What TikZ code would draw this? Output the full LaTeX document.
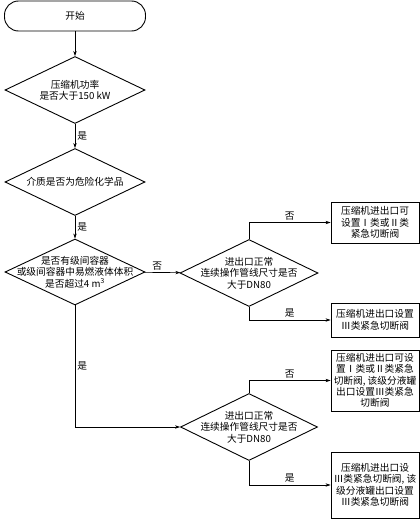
\documentclass[tikz,border=0pt]{standalone}
\usepackage{fontspec}
\setmainfont{Noto Sans CJK SC}
\usetikzlibrary{shapes.geometric,arrows.meta}
\begin{document}
\begin{tikzpicture}[x=1pt,y=-1pt,
  font=\fontsize{9.7}{11.4}\selectfont,
  shp/.style={draw=black,line width=0.9pt},
  startbox/.style={shp,rounded corners=14pt,minimum width=141pt,minimum height=30pt,inner sep=0pt},
  decision/.style={shp,shape=diamond,minimum width=140pt,minimum height=67pt,inner sep=0pt},
  actbox/.style={shp,minimum width=88pt,inner sep=0pt,align=center},
  conn/.style={draw=black,line width=0.6pt,-{Stealth[length=5pt,width=3.4pt]}},
  lbl/.style={font=\fontsize{9.7}{11}\selectfont,inner sep=2pt}]
\useasboundingbox (0,0) rectangle (420,519);

\node[startbox] (s) at (75,16) {开始};
\node[decision,label={[align=center]center:压缩机功率\\是否大于150 kW}] (d1) at (75,90) {};
\node[decision,label={[align=center]center:介质是否为危险化学品}] (d2) at (75,182) {};
\node[decision,minimum height=66pt,label={[align=center]center:是否有级间容器\\或级间容器中易燃液体体积\\是否超过4 m\textsuperscript{3}}] (d3) at (75,272) {};
\node[decision,minimum width=138pt,label={[align=center]center:进出口正常\\连续操作管线尺寸是否\\大于DN80}] (d4) at (249,273) {};
\node[decision,minimum width=137pt,label={[align=center]center:进出口正常\\连续操作管线尺寸是否\\大于DN80}] (d5) at (249,427) {};

\node[actbox,minimum height=41pt] (b1) at (375,222.5) {压缩机进出口可\\设置Ⅰ类或Ⅱ类\\紧急切断阀};
\node[actbox,minimum height=34pt] (b2) at (375,320) {压缩机进出口设置\\Ⅲ类紧急切断阀};
\node[actbox,minimum height=61pt] (b3) at (375,380.5) {压缩机进出口可设\\置Ⅰ类或Ⅱ类紧急\\切断阀, 该级分液罐\\出口设置Ⅲ类紧急\\切断阀};
\node[actbox,minimum height=66pt] (b4) at (375,485) {压缩机进出口设\\Ⅲ类紧急切断阀, 该\\级分液罐出口设置\\Ⅲ类紧急切断阀};

\draw[conn] (s) -- (d1);
\draw[conn] (d1) -- node[lbl,right] {是} (d2);
\draw[conn] (d2) -- node[lbl,right] {是} (d3);
\draw[conn] (d3) -- node[lbl,above,pos=0.35] {否} (d4);
\draw[conn] (d4.north) |- node[lbl,above,pos=0.75] {否} (b1.west);
\draw[conn] (d4.south) |- node[lbl,above,pos=0.75] {是} (b2.west);
\draw[conn] (d3.south) |- node[lbl,right,pos=0.25] {是} (d5.west);
\draw[conn] (d5.north) |- node[lbl,above,pos=0.75] {否} (b3.west);
\draw[conn] (d5.south) |- node[lbl,above,pos=0.75] {是} (b4.west);
\end{tikzpicture}
\end{document}
